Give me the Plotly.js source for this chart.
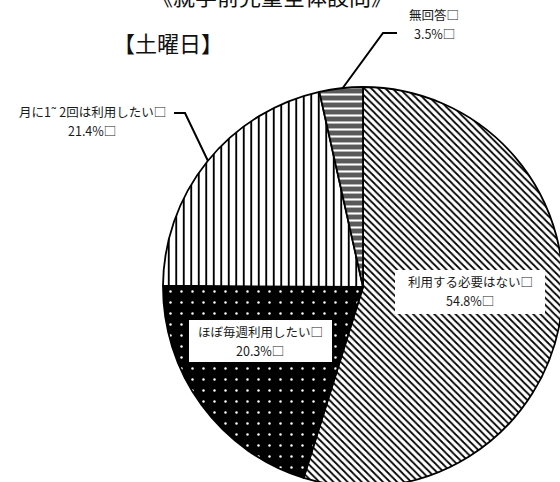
<!DOCTYPE html>
<html>
<head>
<meta charset="utf-8">
<script src="https://cdn.plot.ly/plotly-3.0.1.min.js"></script>
<style>
html, body { margin: 0; padding: 0; overflow: hidden; background: #fff; }
#chart { width: 570px; height: 490px; }
</style>
</head>
<body>
<div id="chart"></div>
<script>
// ---- data ----
const categories = ['利用する必要はない', 'ほぼ毎週利用したい', '月に1˜ 2回は利用したい', '無回答'];
const values = [54.8, 20.3, 21.4, 3.5];
const chartTitle = '【土曜日】';
const topTitle = '《就学前児童全体設問》';

// ---- styles ----
const patternShapes = ['\\', '.', '|', '-'];
const patternBg = ['#ffffff', '#000000', '#ffffff', '#5a5a5a'];
const patternFg = ['#000000', '#ffffff', '#000000', '#ffffff'];
const patternSize = [5, 11, 7.5, 7];
const patternSolidity = [0.35, 0.04, 0.25, 0.3];

const W = 570, H = 490;
const M = {l: 163, r: 7, t: 87, b: 3};
const PW = W - M.l - M.r, PH = H - M.t - M.b;
const px = x => (x - M.l) / PW;
const py = y => 1 - (y - M.t) / PH;

const font = 'Noto Sans CJK JP, Noto Sans, sans-serif';
const LINE = 18.5;

const trace = {
  type: 'pie',
  labels: categories,
  values: values,
  sort: false,
  direction: 'clockwise',
  rotation: 0,
  textinfo: 'none',
  hoverinfo: 'skip',
  showlegend: false,
  domain: {x: [0, 1], y: [0, 1]},
  marker: {
    colors: patternBg,
    line: {color: '#000000', width: 1.8},
    pattern: {
      shape: patternShapes,
      bgcolor: patternBg,
      fgcolor: patternFg,
      size: patternSize,
      solidity: patternSolidity,
      fillmode: 'replace'
    }
  }
};

// two-line label: category line and value line, as separate texts
const labelPair = (i, cx, cy) => {
  const base = {xref: 'paper', yref: 'paper', xanchor: 'center', yanchor: 'middle',
    showarrow: false, font: {family: font, size: 12.5, color: '#1a1a1a'}};
  return [
    Object.assign({}, base, {x: px(cx), y: py(cy - LINE / 2), text: categories[i] + '□'}),
    Object.assign({}, base, {x: px(cx), y: py(cy + LINE / 2), text: values[i].toFixed(1) + '%□'})
  ];
};

const box = (x0, y0, x1, y1) => ({
  type: 'rect', xref: 'paper', yref: 'paper', layer: 'above',
  x0: px(x0), x1: px(x1), y0: py(y1), y1: py(y0),
  fillcolor: '#ffffff', line: {width: 0}
});

const layout = {
  width: W, height: H,
  margin: M,
  paper_bgcolor: '#ffffff',
  plot_bgcolor: '#ffffff',
  title: {
    text: chartTitle,
    xref: 'container', yref: 'container',
    x: 113 / W, xanchor: 'left',
    y: 1 - 44 / H, yanchor: 'middle',
    font: {family: font, size: 22, color: '#111111'}
  },
  annotations: [
    {xref: 'paper', yref: 'paper', x: px(272), y: py(-5), xanchor: 'center', yanchor: 'middle',
     showarrow: false, text: topTitle, font: {family: font, size: 22, color: '#111111'}},
    ...labelPair(0, 470, 291),
    ...labelPair(1, 260, 341),
    ...labelPair(2, 92, 121),
    ...labelPair(3, 434, 24)
  ],
  shapes: [
    box(395, 270, 545, 314),
    box(189, 320, 332, 362),
    {type: 'path', xref: 'paper', yref: 'paper',
     path: `M ${px(174)} ${py(113)} L ${px(185)} ${py(113)} L ${px(208)} ${py(161)}`,
     line: {color: '#000000', width: 2}},
    {type: 'path', xref: 'paper', yref: 'paper',
     path: `M ${px(397)} ${py(33)} L ${px(383)} ${py(33)} L ${px(342)} ${py(89)}`,
     line: {color: '#000000', width: 2}}
  ]
};

Plotly.newPlot('chart', [trace], layout, {displayModeBar: false, staticPlot: true});
</script>
</body>
</html>
